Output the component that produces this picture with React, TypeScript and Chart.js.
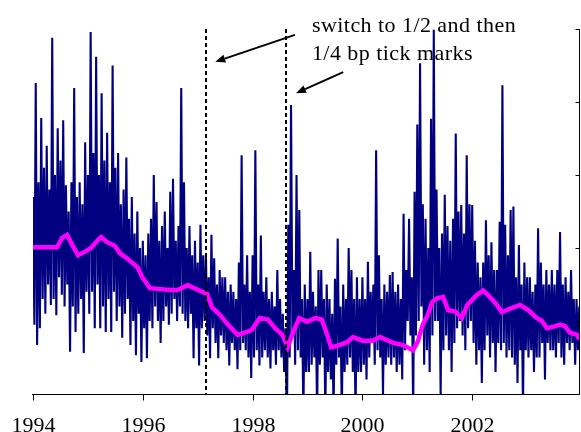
import React, { useEffect, useRef } from 'react';
import { Chart, registerables } from 'chart.js';

Chart.register(...registerables);

// Spread observations, starting Jan 1994, one every 0.025 year (peak / trough pairs)
const blueStartYear = 1994;
const blueStepYears = 0.025;
const blueValues = [
  2.7, 0.95, 4.26, 0.67, 2.9, 0.9, 3.78, 1.3, 3.1, 1.1,
  3.4, 1.5, 2.8, 1.22, 4.88, 1.3, 3.0, 1.08, 3.64, 1.6,
  3.2, 1.36, 3.75, 1.2, 2.86, 1.5, 2.5, 0.58, 2.9, 1.2,
  4.19, 0.85, 2.7, 1.1, 2.9, 1.3, 2.6, 0.56, 3.45, 1.4,
  3.0, 1.1, 4.96, 1.4, 3.3, 0.9, 4.62, 1.5, 3.0, 0.9,
  4.12, 1.2, 3.2, 0.85, 3.58, 1.3, 2.9, 0.85, 4.5, 1.4,
  3.1, 1.0, 3.3, 1.2, 2.6, 0.77, 2.8, 1.1, 3.24, 1.3,
  2.4, 0.67, 2.7, 1.0, 2.2, 0.53, 2.5, 1.1, 2.0, 0.44,
  2.1, 0.9, 1.9, 0.49, 2.2, 1.0, 2.4, 0.9, 3.0, 1.2,
  2.63, 1.0, 2.1, 0.7, 2.3, 1.0, 2.5, 1.2, 2.0, 0.95,
  2.77, 1.1, 2.95, 1.3, 2.1, 1.0, 2.3, 1.2, 4.19, 1.1,
  2.9, 1.0, 2.0, 0.9, 2.3, 1.1, 1.9, 0.49, 2.1, 0.9,
  1.8, 0.39, 2.32, 0.9, 1.9, 1.0, 1.9, 0.8, 1.6, 0.49,
  2.18, 0.9, 1.86, 0.7, 1.5, 0.49, 1.7, 0.8, 1.6, 0.7,
  1.6, 0.6, 1.4, 0.39, 1.5, 0.7, 1.4, 0.6, 1.3, 0.34,
  1.8, 0.6, 3.27, 0.7, 1.5, 0.6, 1.9, 0.5, 1.4, 0.22,
  1.9, 0.5, 3.34, 0.6, 1.5, 0.39, 2.17, 0.5, 1.4, 0.6,
  1.6, 0.5, 1.3, 0.35, 1.4, 0.6, 1.2, 0.4, 1.7, 0.6,
  1.3, 0.5, 1.1, 0.3, 0.9, -0.5, 2.32, 0.5, 3.96, 0.8,
  1.7, 0.4, 3.0, 0.6, 2.52, 0.5, 1.3, -0.3, 1.5, 0.3,
  1.3, 0.3, 1.95, 0.4, 1.4, 0.5, 1.2, -0.3, 1.7, 0.4,
  1.7, 0.5, 1.3, -0.3, 1.5, 0.3, 1.3, 0.2, 1.1, -0.3,
  1.58, 0.4, 2.13, 0.5, 1.2, -0.3, 1.5, 0.3, 1.3, 0.4,
  2.0, 0.5, 1.7, 0.3, 1.3, -0.3, 1.6, 0.3, 1.3, 0.3,
  1.6, 0.4, 1.3, 0.2, 1.81, 0.5, 1.4, 0.72, 1.5, 0.4,
  3.34, 0.6, 1.9, 0.5, 1.3, 0.0, 1.5, 0.4, 1.4, 0.5,
  1.63, 0.4, 1.67, 0.5, 1.4, 0.3, 1.5, 0.4, 1.3, 0.2,
  2.47, 0.6, 1.7, 1.0, 2.4, 0.8, 1.6, -0.3, 2.77, 0.8,
  3.69, 1.0, 4.53, 1.2, 2.6, 0.4, 2.4, 0.6, 2.0, 0.3,
  3.77, 0.8, 4.99, 1.0, 2.8, 1.0, 2.0, 0.0, 2.2, 0.6,
  2.73, 0.8, 2.3, 0.6, 2.1, 0.3, 2.4, 0.7, 3.57, 0.9,
  2.5, 1.0, 2.59, 0.8, 2.2, 0.6, 3.27, 0.9, 2.6, 1.0,
  2.59, 0.7, 2.1, 0.4, 1.8, 0.6, 1.6, 0.15, 1.8, 0.6,
  2.38, 0.8, 1.9, 0.5, 2.08, 0.7, 1.7, 0.3, 1.7, 0.7,
  2.36, 0.6, 4.23, 0.7, 2.32, 0.5, 1.9, 0.6, 2.52, 0.5,
  2.57, 0.4, 1.6, 0.15, 2.04, 0.6, 1.5, -0.2, 1.8, 0.6,
  1.6, 0.5, 1.6, 0.6, 1.4, 0.3, 1.5, 0.5, 2.27, 0.5,
  1.8, 0.7, 1.5, 0.2, 1.7, 0.7, 1.5, 0.6, 1.7, 0.6,
  1.5, 0.5, 1.7, 0.7, 2.22, 0.5, 1.5, 0.4, 1.6, 0.7,
  1.4, 0.6, 1.7, 0.7, 1.3, 0.4, 1.3, 0.6, 1.2, 0.53,
];

// Moving average (magenta)
const avgYears = [
  1994.0, 1994.44, 1994.53, 1994.62, 1994.71, 1994.82, 1994.95, 1995.07, 1995.17, 1995.24,
  1995.35, 1995.49, 1995.58, 1995.71, 1995.82, 1995.91, 1995.99, 1996.13, 1996.4, 1996.62,
  1996.82, 1997.08, 1997.17, 1997.26, 1997.41, 1997.55, 1997.73, 1997.9, 1997.99, 1998.13,
  1998.28, 1998.41, 1998.54, 1998.64, 1998.74, 1998.85, 1998.99, 1999.14, 1999.26, 1999.36,
  1999.43, 1999.54, 1999.72, 1999.83, 2000.0, 2000.19, 2000.32, 2000.56, 2000.74, 2000.92,
  2001.01, 2001.1, 2001.19, 2001.27, 2001.36, 2001.47, 2001.56, 2001.69, 2001.81, 2001.91,
  2002.0, 2002.09, 2002.2, 2002.32, 2002.45, 2002.54, 2002.69, 2002.87, 2003.02, 2003.18,
  2003.27, 2003.36, 2003.47, 2003.6, 2003.69, 2003.78, 2003.91, 2003.95,
];
const avgValues = [
  2.01, 2.01, 2.14, 2.18, 2.05, 1.9, 1.95, 2.01, 2.1, 2.15,
  2.08, 2.03, 1.93, 1.86, 1.79, 1.73, 1.6, 1.45, 1.43, 1.42,
  1.49, 1.4, 1.37, 1.19, 1.08, 0.95, 0.81, 0.85, 0.88, 1.04,
  1.02, 0.9, 0.81, 0.64, 0.85, 1.04, 0.99, 1.04, 1.02, 0.81,
  0.64, 0.66, 0.71, 0.78, 0.73, 0.73, 0.78, 0.7, 0.67, 0.6,
  0.72, 0.95, 1.08, 1.26, 1.31, 1.33, 1.15, 1.13, 1.04, 1.22,
  1.29, 1.36, 1.42, 1.33, 1.22, 1.12, 1.17, 1.22, 1.15, 1.04,
  1.0, 0.9, 0.92, 0.95, 0.93, 0.84, 0.81, 0.75,
];

const xTickYears = [1994, 1996, 1998, 2000, 2002];
const xTickLabels = ['1994', '1996', '1998', '2000', '2002'];
const yTickValues = [0, 1, 2, 3, 4, 5];
const markerYears = [1997.15, 1998.61];
const noteLines = ['switch to 1/2 and then', '1/4 bp tick marks'];

export default function App() {
  const ref = useRef<HTMLCanvasElement>(null);

  useEffect(() => {
    document.body.style.margin = '0';
    const canvas = ref.current;
    if (!canvas) return;

    const bluePts = blueValues.map((v, i) => ({ x: blueStartYear + i * blueStepYears, y: v }));
    const avgPts = avgYears.map((yr, i) => ({ x: yr, y: avgValues[i] }));

    const arrow = (ctx: CanvasRenderingContext2D, x1: number, y1: number, x2: number, y2: number) => {
      const ang = Math.atan2(y2 - y1, x2 - x1);
      const len = 10;
      const hw = 4;
      const bx = x2 - len * Math.cos(ang);
      const by = y2 - len * Math.sin(ang);
      ctx.beginPath();
      ctx.moveTo(x1, y1);
      ctx.lineTo(bx, by);
      ctx.stroke();
      ctx.beginPath();
      ctx.moveTo(x2, y2);
      ctx.lineTo(bx + hw * Math.sin(ang), by - hw * Math.cos(ang));
      ctx.lineTo(bx - hw * Math.sin(ang), by + hw * Math.cos(ang));
      ctx.closePath();
      ctx.fill();
    };

    const decor = {
      id: 'decor',
      afterDatasetsDraw(chart: any) {
        const { ctx, chartArea: a, scales } = chart;
        const xs = scales.x;
        const ys = scales.y;
        ctx.save();
        ctx.strokeStyle = '#000';
        ctx.fillStyle = '#000';

        // dashed markers
        ctx.lineWidth = 2;
        ctx.setLineDash([4, 3]);
        markerYears.forEach((yr) => {
          const px = Math.round(xs.getPixelForValue(yr));
          ctx.beginPath();
          ctx.moveTo(px, a.top);
          ctx.lineTo(px, a.bottom);
          ctx.stroke();
        });
        ctx.setLineDash([]);

        // axes
        ctx.lineWidth = 1;
        const by = Math.round(a.bottom) + 0.5;
        const rx = Math.round(a.right) + 0.5;
        ctx.beginPath();
        ctx.moveTo(a.left - 1, by);
        ctx.lineTo(rx, by);
        ctx.moveTo(rx, a.top);
        ctx.lineTo(rx, by);
        ctx.stroke();

        // right axis inward ticks
        yTickValues.forEach((v) => {
          const py = Math.round(ys.getPixelForValue(v)) + 0.5;
          ctx.beginPath();
          ctx.moveTo(rx, py);
          ctx.lineTo(rx - 4, py);
          ctx.stroke();
        });

        // x ticks & labels
        ctx.font = '22px "Liberation Serif", "Times New Roman", serif';
        ctx.textAlign = 'center';
        ctx.textBaseline = 'alphabetic';
        xTickYears.forEach((yr, i) => {
          const px = Math.round(xs.getPixelForValue(yr)) + 0.5;
          ctx.beginPath();
          ctx.moveTo(px, by);
          ctx.lineTo(px, by + 6);
          ctx.stroke();
          ctx.fillText(xTickLabels[i], px, by + 37);
        });

        // annotation text
        ctx.textAlign = 'left';
        try { (ctx as any).letterSpacing = '0.45px'; } catch (e) { /* ignore */ }
        const tx = xs.getPixelForValue(1999.08);
        ctx.fillText(noteLines[0], tx, ys.getPixelForValue(4.96));
        ctx.fillText(noteLines[1], tx, ys.getPixelForValue(4.58));
        try { (ctx as any).letterSpacing = '0px'; } catch (e) { /* ignore */ }

        // arrows
        ctx.lineWidth = 2;
        arrow(ctx, xs.getPixelForValue(1998.77), ys.getPixelForValue(4.92), xs.getPixelForValue(1997.32), ys.getPixelForValue(4.55));
        arrow(ctx, xs.getPixelForValue(1999.65), ys.getPixelForValue(4.41), xs.getPixelForValue(1998.79), ys.getPixelForValue(4.12));
        ctx.restore();
      },
    };

    const chart = new Chart(canvas, {
      type: 'line',
      data: {
        datasets: [
          {
            label: 'average',
            data: avgPts,
            borderColor: '#FF00FF',
            borderWidth: 4.5,
            pointRadius: 0,
            tension: 0,
            order: 0,
            clip: 0,
          },
          {
            label: 'spread',
            data: bluePts,
            borderColor: '#000080',
            borderWidth: 2.1,
            pointRadius: 0,
            tension: 0,
            order: 1,
            clip: 0,
          },
        ],
      },
      options: {
        responsive: false,
        animation: false,
        layout: { padding: { left: 33, right: 2, top: 29, bottom: 38 } },
        scales: {
          x: { type: 'linear', min: 1994, max: 2003.945, display: false },
          y: { min: 0, max: 5, display: false },
        },
        plugins: { legend: { display: false }, tooltip: { enabled: false } },
      },
      plugins: [decor],
    } as any);

    return () => chart.destroy();
  }, []);

  return <canvas ref={ref} width={581} height={432} style={{ display: 'block' }} />;
}
